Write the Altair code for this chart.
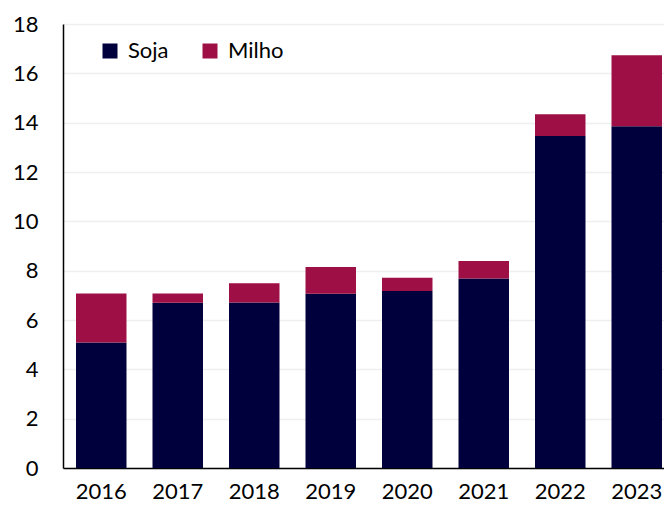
import altair as alt
import pandas as pd

years = ["2016", "2017", "2018", "2019", "2020", "2021", "2022", "2023"]
soja = [5.09, 6.70, 6.71, 7.06, 7.18, 7.68, 13.46, 13.85]
milho = [1.98, 0.37, 0.78, 1.09, 0.53, 0.71, 0.88, 2.88]
series = ["Soja", "Milho"]
colors = ["#00003C", "#9E1045"]

rows = []
for y, s, m in zip(years, soja, milho):
    rows.append({"ano": y, "serie": "Soja", "valor": s, "ordem": 0})
    rows.append({"ano": y, "serie": "Milho", "valor": m, "ordem": 1})
df = pd.DataFrame(rows)

FONT = "Lato"

chart = alt.Chart(df).mark_bar().encode(
    x=alt.X("ano:N", sort=years,
            scale=alt.Scale(paddingInner=0.34, paddingOuter=0.17, range=[0, 612]),
            axis=alt.Axis(title=None, labelAngle=0, labelFontSize=22, labelFont=FONT,
                          labelColor="#000", labelPadding=13, ticks=False,
                          domainColor="#000", domainWidth=1.5)),
    y=alt.Y("valor:Q", stack="zero",
            scale=alt.Scale(domain=[0, 18], nice=False),
            axis=alt.Axis(title=None, values=list(range(0, 19, 2)), labelFontSize=22,
                          labelFont=FONT, labelColor="#000", labelPadding=25, ticks=False,
                          domainColor="#000", domainWidth=1.5,
                          gridColor="#EFEFEF", gridWidth=1.5)),
    color=alt.Color("serie:N",
                    scale=alt.Scale(domain=series, range=colors),
                    legend=alt.Legend(title=None, orient="none", direction="horizontal",
                                      legendX=36, legendY=16, symbolType="square",
                                      symbolSize=225, symbolStrokeWidth=0,
                                      labelFontSize=22, labelFont=FONT, labelColor="#000",
                                      columnPadding=30, labelOffset=7)),
    order=alt.Order("ordem:Q"),
).properties(
    width=601, height=444,
    autosize=alt.AutoSizeParams(type="none"),
    padding={"left": 55, "top": 16, "right": 0, "bottom": 35},
).configure_view(stroke=None)

chart.save("out.html", embed_options={"renderer": "svg", "actions": False})
